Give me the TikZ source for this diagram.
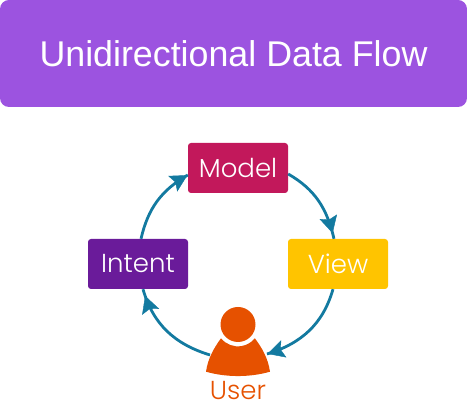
\documentclass[tikz,border=0pt]{standalone}
\usepackage{fontspec}
\setmainfont{Liberation Sans}
\newfontfamily\labelfont{Poppins Light}
\usetikzlibrary{arrows.meta,decorations.markings}
\definecolor{headerc}{HTML}{9C53E0}
\definecolor{modelc}{HTML}{C2185B}
\definecolor{intentc}{HTML}{6A1B9A}
\definecolor{viewc}{HTML}{FFC400}
\definecolor{userc}{HTML}{E65100}
\definecolor{flowc}{HTML}{137AA0}
\tikzset{
  x=1pt,y=1pt,
  boxn/.style={rounded corners=3pt,minimum width=100pt,minimum height=50pt,inner sep=0pt,text=white,font=\labelfont\fontsize{26}{30}\selectfont},
  flow/.style={draw=flowc,line width=2.8pt},
  tipend/.style={postaction={decorate,decoration={markings,mark=at position #1 with {\arrow[flowc,line width=0.4pt]{Stealth[length=17pt,width=18pt,inset=3pt]}}}}}
}
\begin{document}
\begin{tikzpicture}
\useasboundingbox (0,0) rectangle (467,411);
\node[fill=headerc,rounded corners=9pt,minimum width=467pt,minimum height=107pt,inner sep=0pt,text=white,font=\fontsize{35.8}{42}\selectfont] (title) at (233.5,357.5) {\raisebox{-3pt}{Unidirectional Data Flow}};
\node[boxn,fill=modelc] (model) at (238,243) {Model};
\node[boxn,fill=intentc] (intent) at (138,147) {Intent};
\node[boxn,fill=viewc] (view) at (338,147) {View};
\coordinate (userR) at (267,57);
\coordinate (userL) at (210,56);
\fill[userc] (238,86.5) circle[radius=17.5];
\fill[userc] (206,39.3) .. controls (208,53) and (214,63) .. (221,72.7)
  arc[start angle=219,end angle=321,radius=21.8]
  .. controls (262,63) and (268,53) .. (270,39.3)
  .. controls (250,33.5) and (226,33.5) .. (206,39.3) -- cycle;
\node[inner sep=0pt,text=userc,font=\labelfont\fontsize{26}{30}\selectfont] (userlabel) at (238,20) {User};
\draw[flow,tipend=0.93] ([yshift=-6pt]model.east) to[out=-30,in=103] ([xshift=-4pt]view.north);
\draw[flow,tipend=0.995] ([xshift=-5pt]view.south) to[out=254,in=17] (userR);
\draw[flow,tipend=0.93] (userL) to[out=163,in=286] ([xshift=5pt]intent.south);
\draw[flow,tipend=0.995] ([xshift=3pt]intent.north) to[out=77,in=210] ([yshift=-7pt]model.west);
\end{tikzpicture}
\end{document}
